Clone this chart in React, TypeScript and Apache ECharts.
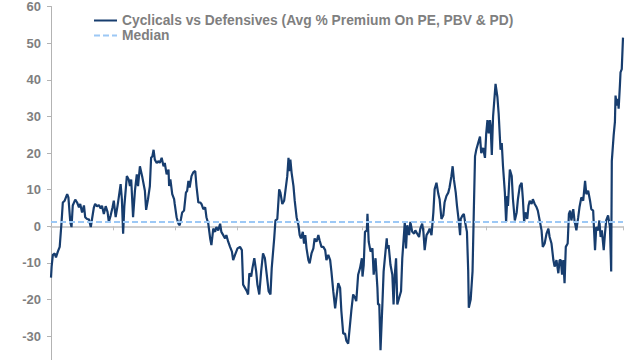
import React, { useEffect, useRef } from "react";
import * as echarts from "echarts";

// Time in years since January 2014 (x)
const years = [
  0.00, 0.01, 0.03, 0.06, 0.08, 0.11, 0.14, 0.17, 0.19, 0.22, 0.26, 0.28, 0.31, 0.33, 0.35, 0.39,
  0.42, 0.45, 0.47, 0.50, 0.53, 0.55, 0.58, 0.61, 0.64, 0.66, 0.69, 0.71, 0.74, 0.77, 0.80, 0.82,
  0.85, 0.88, 0.91, 0.93, 0.96, 0.99, 1.01, 1.04, 1.07, 1.09, 1.12, 1.14, 1.16, 1.18, 1.22, 1.25,
  1.27, 1.29, 1.32, 1.35, 1.38, 1.40, 1.43, 1.47, 1.51, 1.53, 1.56, 1.59, 1.61, 1.63, 1.65, 1.67,
  1.70, 1.73, 1.75, 1.78, 1.81, 1.83, 1.86, 1.89, 1.90, 1.92, 1.95, 1.98, 1.99, 2.02, 2.05, 2.07,
  2.09, 2.11, 2.14, 2.17, 2.19, 2.21, 2.23, 2.26, 2.29, 2.32, 2.34, 2.37, 2.40, 2.42, 2.45, 2.48,
  2.50, 2.53, 2.56, 2.58, 2.61, 2.64, 2.66, 2.69, 2.72, 2.74, 2.77, 2.80, 2.82, 2.85, 2.88, 2.91,
  2.93, 2.96, 3.00, 3.04, 3.07, 3.09, 3.12, 3.15, 3.17, 3.19, 3.22, 3.24, 3.27, 3.30, 3.32, 3.35,
  3.38, 3.41, 3.44, 3.47, 3.50, 3.53, 3.55, 3.59, 3.61, 3.64, 3.67, 3.69, 3.72, 3.75, 3.77, 3.80,
  3.82, 3.83, 3.85, 3.87, 3.90, 3.92, 3.95, 3.98, 4.00, 4.02, 4.05, 4.07, 4.09, 4.11, 4.14, 4.16,
  4.19, 4.22, 4.24, 4.27, 4.30, 4.32, 4.35, 4.38, 4.41, 4.43, 4.46, 4.49, 4.51, 4.54, 4.57, 4.59,
  4.62, 4.65, 4.67, 4.70, 4.73, 4.75, 4.78, 4.81, 4.83, 4.86, 4.89, 4.91, 4.94, 4.97, 5.00, 5.01,
  5.03, 5.05, 5.08, 5.09, 5.11, 5.14, 5.17, 5.19, 5.22, 5.25, 5.26, 5.28, 5.30, 5.33, 5.35, 5.37,
  5.40, 5.41, 5.43, 5.46, 5.49, 5.51, 5.53, 5.55, 5.57, 5.60, 5.63, 5.65, 5.68, 5.69, 5.71, 5.73,
  5.76, 5.78, 5.81, 5.84, 5.86, 5.89, 5.92, 5.94, 5.97, 5.99, 6.01, 6.04, 6.07, 6.09, 6.12, 6.15,
  6.17, 6.20, 6.23, 6.25, 6.28, 6.31, 6.33, 6.36, 6.39, 6.41, 6.44, 6.46, 6.48, 6.51, 6.53, 6.56,
  6.58, 6.59, 6.62, 6.64, 6.66, 6.69, 6.71, 6.72, 6.75, 6.78, 6.80, 6.82, 6.84, 6.87, 6.90, 6.92,
  6.95, 6.98, 7.00, 7.02, 7.04, 7.06, 7.07, 7.09, 7.11, 7.13, 7.15, 7.18, 7.20, 7.23, 7.25, 7.27,
  7.30, 7.32, 7.34, 7.35, 7.38, 7.41, 7.43, 7.46, 7.49, 7.51, 7.54, 7.57, 7.59, 7.61, 7.63, 7.66,
  7.68, 7.70, 7.73, 7.75, 7.78, 7.81, 7.83, 7.86, 7.89, 7.91, 7.94, 7.97, 8.00, 8.02, 8.05, 8.08,
  8.10, 8.13, 8.16, 8.18, 8.20, 8.22, 8.24, 8.26, 8.28, 8.31, 8.33, 8.35, 8.37, 8.40, 8.42, 8.45,
  8.48, 8.50, 8.53, 8.56, 8.59, 8.61, 8.64, 8.67, 8.69, 8.72, 8.75, 8.77, 8.80, 8.82, 8.84, 8.86,
  8.89, 8.91, 8.93, 8.96, 8.99, 9.01, 9.02, 9.05, 9.07, 9.08, 9.10, 9.12, 9.13, 9.15, 9.16, 9.18,
  9.20,
];

// Cyclicals vs Defensives (Avg % Premium On PE, PBV & PD)
const premium = [
  -14.0, -11.0, -7.8, -7.4, -8.5, -6.9, -5.6, 1.2, 6.5, 7.0, 8.8, 7.9, 1.2, -0.2, 5.7, 7.3,
  6.5, 5.2, 6.1, 3.8, 5.7, 2.5, 2.0, 1.9, -0.2, 2.0, 5.2, 6.1, 5.5, 5.8, 4.9, 5.6,
  3.4, 5.5, 3.9, 1.2, 3.0, 5.2, 7.0, 2.5, 5.6, 7.9, 11.5, 7.4, -2.0, 5.6, 13.7, 12.8,
  11.0, 12.8, 2.5, 9.7, 14.2, 11.0, 16.4, 13.3, 9.7, 4.5, 7.4, 11.0, 18.7, 19.1, 20.9, 18.2,
  17.3, 17.8, 17.3, 18.7, 16.4, 17.3, 14.2, 15.5, 11.0, 12.8, 8.8, 7.4, 6.1, 2.5, 0.7, 0.3,
  2.0, 3.8, 4.3, 9.2, 9.7, 12.4, 10.6, 13.7, 14.8, 15.1, 11.0, 6.5, 6.5, 6.1, 4.7, 5.2,
  2.5, 0.7, -3.3, -5.1, -0.6, -1.5, -0.2, -1.1, 0.7, -1.5, -2.4, -3.3, -2.4, -4.2, -5.6, -6.9,
  -9.2, -7.8, -6.0, -5.6, -6.5, -15.9, -16.8, -17.7, -18.6, -12.8, -13.7, -11.4, -8.7, -12.3, -15.9, -18.6,
  -12.3, -7.4, -8.7, -13.2, -17.7, -18.6, -11.4, -3.3, 1.6, 2.0, 10.1, 9.2, 6.1, 7.0, 9.7, 13.7,
  18.7, 15.1, 18.2, 14.6, 11.0, 7.0, 2.5, 0.3, -2.4, -3.3, -1.5, -4.7, -2.4, -6.0, -9.2, -10.1,
  -7.4, -6.0, -3.3, -4.2, -2.4, -3.8, -5.6, -5.6, -6.5, -9.2, -7.8, -9.2, -12.3, -17.7, -22.4, -19.5,
  -15.5, -16.8, -23.1, -29.3, -29.3, -31.2, -32.0, -26.7, -23.1, -18.6, -19.5, -20.4, -13.2, -11.4, -8.7, -13.7,
  -10.5, -1.5, -1.1, 3.4, -4.2, -6.9, -6.0, -13.2, -8.7, -16.8, -21.3, -21.3, -33.8, -21.3, -12.3, -8.7,
  -3.3, -6.0, -5.1, -10.5, -13.2, -21.3, -13.2, -8.7, -21.3, -19.5, -17.7, -8.7, -1.5, 1.2, -6.0, 0.3,
  -2.4, 1.2, -1.5, -2.0, -1.1, -2.0, -2.9, -0.6, 0.7, -1.5, -6.5, -2.4, -1.5, -0.6, -2.4, 3.8,
  10.1, 11.9, 8.8, 7.4, 2.0, 3.0, 6.5, 8.3, 9.2, 10.6, 13.7, 16.4, 12.8, 9.2, 5.6, 1.2,
  -2.4, 2.0, 3.0, 3.4, 1.2, -1.5, -12.0, -22.2, -20.0, -12.3, 3.8, 19.1, 20.9, 22.7, 24.5, 20.0,
  21.4, 18.7, 25.4, 29.0, 25.4, 29.0, 27.6, 19.5, 29.9, 34.4, 38.9, 35.3, 30.8, 20.9, 22.7, 16.4,
  9.2, 1.2, 8.3, 5.6, 15.5, 13.7, 7.4, 1.6, 3.8, 7.4, 11.0, 11.9, 7.4, 1.2, 3.8, 2.0,
  5.6, 7.0, 6.1, 7.4, 6.1, 5.2, 4.3, 1.6, -1.1, -5.6, -4.7, -2.0, -0.6, -2.9, -4.7, -9.2,
  -11.0, -9.2, -12.8, -9.2, -9.2, -13.2, -9.2, -15.5, -5.6, -4.7, 3.4, 4.3, 1.6, 4.7, 1.6, -1.1,
  2.5, 5.2, 7.9, 7.0, 12.4, 8.8, 9.7, 7.0, 4.7, 4.3, -6.5, -0.2, -1.1, 1.6, -2.9, -1.1,
  -6.5, -2.0, 1.6, 3.0, -0.2, -12.3, 17.8, 24.9, 28.5, 35.7, 33.0, 34.8, 32.1, 38.4, 42.0, 42.9,
  51.5,
];

const medianValue = 1.2;
const xStart = 0;
const xEnd = 9.2;
const yMin = -40;
const yMax = 60;

const seriesName = "Cyclicals vs Defensives (Avg % Premium On PE, PBV & PD)";
const medianName = "Median";

export default function App() {
  const ref = useRef<HTMLDivElement>(null);

  useEffect(() => {
    if (!ref.current) return;
    const chart = echarts.init(ref.current, null, { renderer: "svg" });
    const mainData = years.map((t, i) => [t, premium[i]]);
    const medianData = [
      [xStart, medianValue],
      [xEnd, medianValue],
    ];
    chart.setOption({
      animation: false,
      backgroundColor: "#ffffff",
      grid: { left: 51, right: 17, top: 1.5, bottom: 7.1, containLabel: false },
      legend: {
        orient: "vertical",
        left: 88,
        top: 8,
        itemWidth: 23,
        itemHeight: 14,
        itemGap: 0,
        itemStyle: { opacity: 0 },
        textStyle: {
          color: "#7f7f7f",
          fontWeight: "bold",
          fontSize: 13.8,
          lineHeight: 15,
          fontFamily: "Liberation Sans, Arial, sans-serif",
        },
        data: [seriesName, medianName],
      },
      xAxis: {
        type: "value",
        min: xStart,
        max: xEnd,
        interval: 1,
        axisLine: { show: true, onZero: true, lineStyle: { color: "#bfbfbf", width: 1.5 } },
        axisTick: { show: true, length: 4, lineStyle: { color: "#bfbfbf" } },
        axisLabel: { show: false },
        splitLine: { show: false },
      },
      yAxis: {
        type: "value",
        min: yMin,
        max: yMax,
        interval: 10,
        axisLine: { show: true, lineStyle: { color: "#b3b3b3", width: 1 } },
        axisTick: { show: true, length: 4, lineStyle: { color: "#b3b3b3" } },
        axisLabel: {
          margin: 10,
          color: "#7f7f7f",
          fontWeight: "bold",
          fontSize: 13,
          fontFamily: "Liberation Sans, Arial, sans-serif",
          formatter: (v: number) => (v === yMin ? "" : String(v)),
        },
        splitLine: { show: false },
      },
      series: [
        {
          name: seriesName,
          type: "line",
          data: mainData,
          showSymbol: false,
          symbol: "none",
          lineStyle: { color: "#173d6e", width: 2.2 },
          itemStyle: { color: "#173d6e" },
          z: 2,
        },
        {
          name: medianName,
          type: "line",
          data: medianData,
          showSymbol: false,
          symbol: "none",
          lineStyle: { color: "#9cc8f5", width: 2, type: [6, 3] },
          itemStyle: { color: "#9cc8f5" },
          z: 3,
        },
      ],
    });
    return () => chart.dispose();
  }, []);

  return (
    <div
      ref={ref}
      style={{ position: "fixed", left: 0, top: 0, width: 640, height: 380, background: "#fff" }}
    />
  );
}
